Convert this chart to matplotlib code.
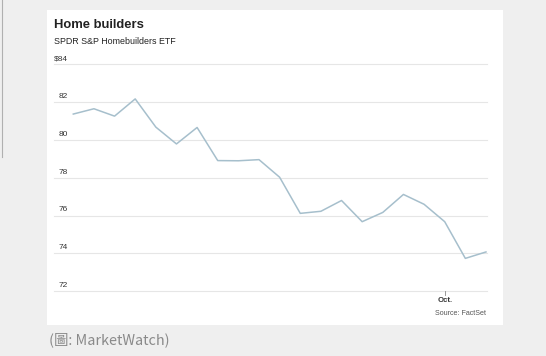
import matplotlib.pyplot as plt
from matplotlib.patches import Rectangle
from matplotlib.lines import Line2D

# SPDR S&P Homebuilders ETF, daily closes
prices = [81.37, 81.65, 81.26, 82.17, 80.68, 79.79, 80.66, 78.91, 78.90, 78.96,
          78.03, 76.12, 76.23, 76.80, 75.68, 76.17, 77.12, 76.60, 75.68, 73.74, 74.08]
days = list(range(len(prices)))
y_ticks = [72, 74, 76, 78, 80, 82, 84]
y_labels = ["72", "74", "76", "78", "80", "82", "$84"]
oct_index = 18

W, H = 546, 356
fig = plt.figure(figsize=(W / 100, H / 100), dpi=100, facecolor="#efefef")

# white card behind the chart
fig.patches.append(Rectangle((47 / W, 1 - 325 / H), (503 - 47) / W, (325 - 10) / H,
                             transform=fig.transFigure, facecolor="white",
                             edgecolor="none", zorder=-10))
# thin edge of a box at the far left
fig.lines.append(Line2D([2 / W, 2 / W], [1.0, 1 - 157 / H], transform=fig.transFigure,
                        color="#b0b0b0", lw=0.8, zorder=-10))

ax = fig.add_axes([54 / W, 1 - 291.3 / H, 433 / W, (291.3 - 64.3) / H])
ax.set_zorder(5)
ax.set_facecolor("none")
for s in ax.spines.values():
    s.set_visible(False)
ax.set_xticks([])
ax.set_yticks([])

for v in y_ticks:
    ax.axhline(v, color="#e6e6e6", lw=0.8, zorder=1, clip_on=False)
ax.plot(days, prices, color="#a6bfcc", lw=1.1, zorder=3)
ax.set_xlim(-0.935, 20.05)
ax.set_ylim(72, 84)

lab_x = (68 - 54) / 433
for v, t in zip(y_ticks, y_labels):
    ax.text(lab_x, v + 0.12, t, transform=ax.get_yaxis_transform(),
            ha="right", va="bottom", fontsize=6, color="#333333",
            family="Liberation Sans")

# October tick
ax.plot([oct_index, oct_index], [72, 71.82], color="#888888", lw=0.6, clip_on=False)
ax.text(oct_index, 71.5, "Oct.", ha="center", va="center", fontsize=5.6,
        fontweight="bold", color="#333333", family="Liberation Sans")

fig.text(486 / W, 1 - 313.3 / H, "Source: FactSet", ha="right", va="center",
         fontsize=5.1, color="#555555", family="Liberation Sans")

fig.text(54 / W, 1 - 25 / H, "Home builders", ha="left", va="center",
         fontsize=9.4, fontweight="bold", color="#222222", family="Liberation Sans")
fig.text(54 / W, 1 - 42 / H, "SPDR S&P Homebuilders ETF", ha="left", va="center",
         fontsize=6.4, color="#222222", family="Liberation Sans")

fig.text(49 / W, 1 - 340 / H, "(圖: MarketWatch)", ha="left", va="center",
         fontsize=10.4, color="#8a8a8a", family=["Noto Sans CJK TC", "DejaVu Sans"])

fig.savefig("out.png", dpi=100, facecolor=fig.get_facecolor())
